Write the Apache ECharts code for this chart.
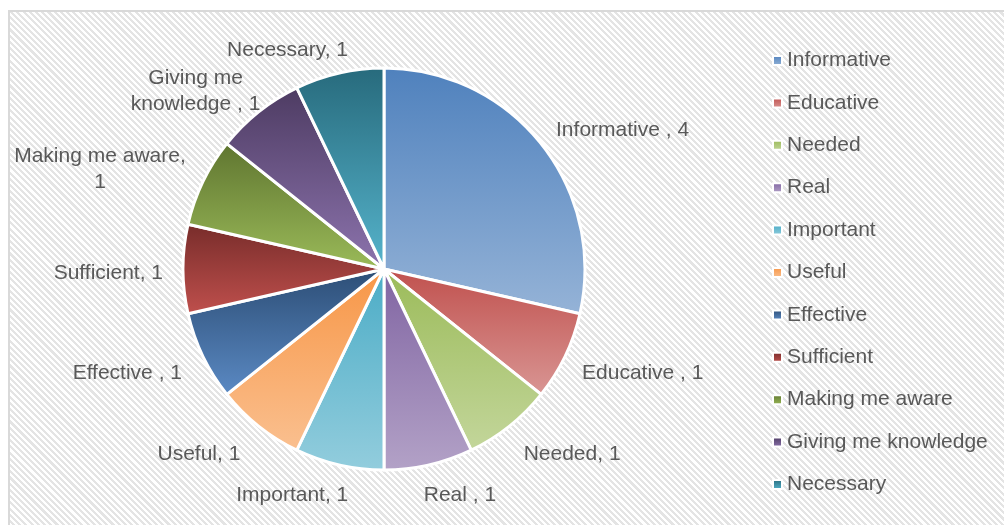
<!DOCTYPE html>
<html>
<head>
<meta charset="utf-8">
<script src="https://cdn.jsdelivr.net/npm/echarts@6/dist/echarts.min.js"></script>
<style>
  html, body { margin: 0; padding: 0; background: #ffffff; }
  #frame {
    position: absolute; left: 8px; top: 10px; width: 1000px; height: 520px;
    border-left: 2px solid #d9d9d9; border-top: 2px solid #d9d9d9;
    background: repeating-linear-gradient(45deg, #ffffff 0px, #ffffff 2.2px, #e4e4e4 2.2px, #e4e4e4 4.4px);
  }
  #chart { position: absolute; left: 0; top: 0; width: 1004px; height: 525px; }
</style>
</head>
<body>
<div id="frame"></div>
<div id="chart"></div>
<script>
// Data
const categories = ['Informative ', 'Educative ', 'Needed', 'Real ', 'Important', 'Useful',
                    'Effective ', 'Sufficient', 'Making me aware', 'Giving me knowledge ', 'Necessary'];
const values = [4, 1, 1, 1, 1, 1, 1, 1, 1, 1, 1];

// Styles
const topColors = ['#4F81BD', '#C0504D', '#9BBB59', '#8064A2', '#4BACC6', '#F79646',
                   '#2C4D75', '#772C2A', '#5F7530', '#4D3B62', '#276A7C'];
const bottomColors = ['#95B3D7', '#D99694', '#C3D69B', '#B3A2C7', '#93CDDD', '#FAC090',
                      '#5B8AC4', '#C0504D', '#9BBB59', '#8D74AE', '#56B4CC'];
// label placement tweaks (distance from pie edge / horizontal run), Excel "best fit" look
const labelLen  = [28, 31, 31, 27, 27, 31, 31, 31, 39, 31, 28];
const labelLen2 = [-7, -11, -5, -11, -15, -1, -7, -11, -18, -21, -15];
// label wrapping (as in the original)
const labelBreaks = { 'Making me aware': ['Making me aware,', '{v}'], 'Giving me knowledge ': ['Giving me', 'knowledge , {v}'] };

const chart = echarts.init(document.getElementById('chart'), null, { renderer: 'canvas' });

const seriesData = categories.map((c, i) => ({
  name: c,
  value: values[i],
  labelLine: { show: false, length: labelLen[i], length2: labelLen2[i] },
  itemStyle: {
    color: new echarts.graphic.LinearGradient(0, 0, 0, 1, [
      { offset: 0, color: topColors[i] },
      { offset: 1, color: bottomColors[i] }
    ])
  }
}));

const FONT = '"Liberation Sans", Arial, sans-serif';

chart.setOption({
  backgroundColor: 'transparent',
  animation: false,
  legend: {
    orient: 'vertical',
    left: 767,
    top: 45,
    itemWidth: 9,
    itemHeight: 9,
    itemGap: 21.4,
    icon: 'rect',
    data: categories,
    formatter: n => n.trim(),
    textStyle: { fontFamily: FONT, fontSize: 21, color: '#595959', lineHeight: 20 }
  },
  series: [{
    type: 'pie',
    center: [384, 269],
    radius: 201,
    startAngle: 90,
    clockwise: true,
    avoidLabelOverlap: false,
    labelLayout: { hideOverlap: false },
    data: seriesData,
    itemStyle: { borderColor: '#ffffff', borderWidth: 3 },
    emphasis: { disabled: true },
    labelLine: { show: false, length: 31, length2: -11 },
    label: {
      show: true,
      position: 'outside',
      distanceToLabelLine: 0,
      padding: [4, 0, -4, 0],
      fontFamily: FONT,
      fontSize: 21,
      color: '#595959',
      lineHeight: 26,
      formatter: p => {
        const br = labelBreaks[p.name];
        if (br) return br.map(s => '{c|' + s.replace('{v}', p.value) + '}').join('\n');
        return '{c|' + p.name + ', ' + p.value + '}';
      },
      rich: { c: { align: 'center', fontFamily: FONT, fontSize: 21, color: '#595959', lineHeight: 26 } }
    }
  }]
});
</script>
</body>
</html>
